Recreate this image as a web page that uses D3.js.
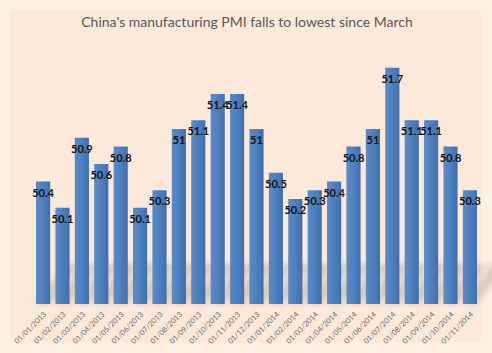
<!DOCTYPE html>
<html>
<head>
<meta charset="utf-8">
<script src="https://cdn.jsdelivr.net/npm/d3@7"></script>
<style>
  body { margin: 0; background: #fdf0e1; }
  svg { display: block; }
</style>
</head>
<body>
<script>
// PMI readings, month by month
var months = ["01/01/2013", "01/02/2013", "01/03/2013", "01/04/2013", "01/05/2013", "01/06/2013",
  "01/07/2013", "01/08/2013", "01/09/2013", "01/10/2013", "01/11/2013", "01/12/2013",
  "01/01/2014", "01/02/2014", "01/03/2014", "01/04/2014", "01/05/2014", "01/06/2014",
  "01/07/2014", "01/08/2014", "01/09/2014", "01/10/2014", "01/11/2014"];
var pmi = [50.4, 50.1, 50.9, 50.6, 50.8, 50.1, 50.3, 51, 51.1, 51.4, 51.4, 51,
  50.5, 50.2, 50.3, 50.4, 50.8, 51, 51.7, 51.1, 51.1, 50.8, 50.3];
var yDomain = [49, 52];
var title = "China's manufacturing PMI falls to lowest since March";

var width = 492, height = 353;
var svg = d3.select("body").append("svg").attr("width", width).attr("height", height);

var defs = svg.append("defs");
var grad = defs.append("linearGradient").attr("id", "barGrad")
  .attr("x1", "0%").attr("x2", "100%").attr("y1", "0%").attr("y2", "0%");
grad.append("stop").attr("offset", "0%").attr("stop-color", "#5b8bc8");
grad.append("stop").attr("offset", "45%").attr("stop-color", "#4f80c0");
grad.append("stop").attr("offset", "100%").attr("stop-color", "#3f70ae");
defs.append("filter").attr("id", "blur").append("feGaussianBlur").attr("stdDeviation", 3);

// chart panel
svg.append("rect").attr("x", 10).attr("y", 10).attr("width", 471).attr("height", 332).attr("fill", "#fce9da");

svg.append("text").attr("x", 247).attr("y", 27).attr("text-anchor", "middle")
  .style("font-family", "Lato, sans-serif").style("font-size", "14px").attr("fill", "#595959")
  .text(title);

var x = d3.scaleBand().domain(months).range([36, 477]).paddingInner(0.27).paddingOuter(0.0);
var y = d3.scaleLinear().domain(yDomain).range([304, 41.5]);

// soft diagonal shadows behind the bars
svg.append("g").attr("filter", "url(#blur)").selectAll("path").data(months).enter().append("path")
  .attr("d", function (d) {
    var x0 = x(d), w = x.bandwidth(), b = y(yDomain[0]);
    return "M" + x0 + "," + b + "L" + (x0 + w) + "," + b + "L" + (x0 + w + 30) + "," + (b - 40) +
      "L" + (x0 + 30) + "," + (b - 40) + "Z";
  })
  .attr("fill", "#9c948c").attr("opacity", 0.4);

svg.append("g").selectAll("rect").data(pmi).enter().append("rect")
  .attr("x", function (d, i) { return x(months[i]); })
  .attr("y", function (d) { return y(d); })
  .attr("width", x.bandwidth())
  .attr("height", function (d) { return y(yDomain[0]) - y(d); })
  .attr("fill", "url(#barGrad)");

svg.append("g").selectAll("text").data(pmi).enter().append("text")
  .attr("x", function (d, i) { return x(months[i]) + x.bandwidth() / 2; })
  .attr("y", function (d) { return y(d) + 15; })
  .attr("text-anchor", "middle")
  .style("font-family", "Lato, sans-serif").style("font-weight", "bold").style("font-size", "11px")
  .attr("fill", "#111")
  .text(function (d) { return d; });

// x axis labels
var xAxis = d3.axisBottom(x).tickSize(0).tickPadding(0);
var gx = svg.append("g").attr("transform", "translate(0," + y(yDomain[0]) + ")").call(xAxis);
gx.select(".domain").remove();
gx.selectAll("text")
  .attr("y", 0)
  .attr("transform", "translate(2,9) rotate(-45)")
  .attr("dy", "0.35em")
  .attr("text-anchor", "end")
  .style("font-family", "Lato, sans-serif").style("font-size", "7.5px")
  .attr("fill", "#6a6a6a");
</script>
</body>
</html>
